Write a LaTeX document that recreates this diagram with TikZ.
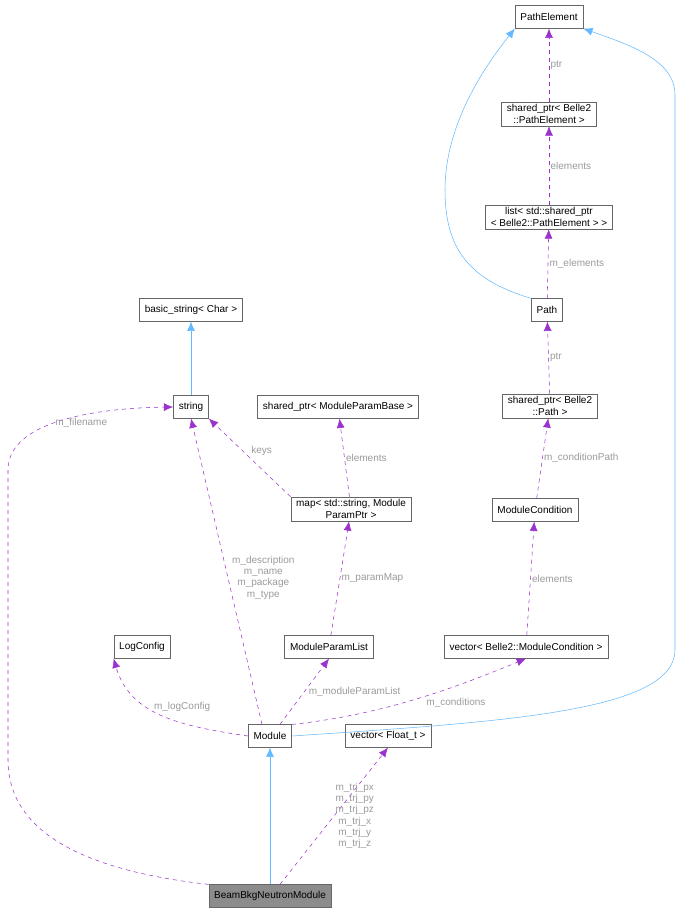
\documentclass[tikz,border=0pt]{standalone}
\usepackage{fontspec}
\setmainfont{Liberation Sans}
\usetikzlibrary{arrows.meta}
\definecolor{inhblue}{HTML}{63B8FF}
\definecolor{mempurple}{HTML}{9A32CD}
\definecolor{lblgray}{HTML}{9A9A9A}
\tikzset{
  box/.style={draw=black!60, fill=white, font=\fontsize{7.5}{8.5}\selectfont, inner xsep=4pt, inner ysep=2pt, minimum height=17pt, align=center},
  inh/.style={draw=inhblue, -{Latex[length=7pt,width=6pt]}},
  mem/.style={draw=mempurple, dashed, -{Latex[length=7pt,width=6pt]}},
  lbl/.style={text=lblgray, font=\fontsize{7.5}{8.5}\selectfont, align=center, inner sep=1pt}
}
\begin{document}
\begin{tikzpicture}[x=0.75pt,y=-0.75pt]
        \useasboundingbox (0,0) rectangle (681,916);

        % Klassen
        \node[box] (pe)    at (549,17)  {PathElement};
        \node[box] (sppe)  at (549,114) {shared\_ptr< Belle2\\::PathElement >};
        \node[box] (lst)   at (549,217) {list< std::shared\_ptr\\< Belle2::PathElement > >};
        \node[box] (path)  at (547,310) {Path};
        \node[box] (spp)   at (550,406) {shared\_ptr< Belle2\\::Path >};
        \node[box] (mc)    at (535,510) {ModuleCondition};
        \node[box] (vmc)   at (526,647) {vector< Belle2::ModuleCondition >};
        \node[box] (bstr)  at (191,310) {basic\_string< Char >};
        \node[box] (str)   at (191,407) {string};
        \node[box] (spmpb) at (338,407) {shared\_ptr< ModuleParamBase >};
        \node[box] (map)   at (351,509) {map< std::string, Module\\ParamPtr >};
        \node[box] (mpl)   at (329,647) {ModuleParamList};
        \node[box] (lc)    at (142,647) {LogConfig};
        \node[box] (mod)   at (270,736) {Module};
        \node[box] (vft)   at (388,736) {vector< Float\_t >};
        \node[box, fill=black!45] (bbn) at (270,896) {BeamBkgNeutronModule};

        % Vererbung
        \draw[inh] (str) -- (bstr);
        \draw[inh] (bbn) -- (mod);
        \draw[inh] (path.north west) .. controls (470,280) and (445,250) .. (445,190)
                   .. controls (445,120) and (490,60) .. (pe.south west);
        \draw[inh] (mod.east) .. controls (500,722) and (675,712) .. (675,650)
                   -- (675,95) .. controls (675,60) and (630,45) .. (pe.south east);

        % Members
        \draw[mem] (sppe) -- (pe)   node[lbl, midway, right] {ptr};
        \draw[mem] (lst)  -- (sppe) node[lbl, midway, right] {elements};
        \draw[mem] (path) -- (lst)  node[lbl, midway, right] {m\_elements};
        \draw[mem] (spp)  -- (path) node[lbl, midway, right] {ptr};
        \draw[mem] (mc)   -- (spp)  node[lbl, midway, right] {m\_conditionPath};
        \draw[mem] (vmc)  -- (mc)   node[lbl, midway, right] {elements};
        \draw[mem] (map)  -- (spmpb) node[lbl, midway, right] {elements};
        \draw[mem] (map.north west) -- (str.south east) node[lbl, midway, above right] {keys};
        \draw[mem] (mpl)  -- (map)  node[lbl, midway, right] {m\_paramMap};
        \draw[mem] (mod.north) ++(-8,0) coordinate (m1) (m1) -- (str.south)
                   node[lbl, pos=0.48, right=2pt] {m\_description\\m\_name\\m\_package\\m\_type};
        \draw[mem] (mod.north) ++(10,0) coordinate (m2) (m2) -- (mpl.south)
                   node[lbl, pos=0.5, right=2pt] {m\_moduleParamList};
        \draw[mem] (mod.north east) .. controls (380,715) and (450,690) .. (vmc.south)
                   node[lbl, pos=0.55, below right] {m\_conditions};
        \draw[mem] (mod.west) .. controls (180,726) and (130,715) .. (lc.south west |- lc.south)
                   node[lbl, pos=0.6, right=3pt] {m\_logConfig};
        \draw[mem] (bbn.north) ++(10,0) coordinate (b1) (b1) -- (vft.south)
                   node[lbl, pos=0.5, right] {m\_trj\_px\\m\_trj\_py\\m\_trj\_pz\\m\_trj\_x\\m\_trj\_y\\m\_trj\_z};
        \draw[mem] (bbn.north west) .. controls (80,870) and (8,830) .. (8,760)
                   -- (8,470) .. controls (8,420) and (100,408) .. (str.west)
                   node[lbl, pos=0.45, right] {m\_filename};
\end{tikzpicture}
\end{document}
